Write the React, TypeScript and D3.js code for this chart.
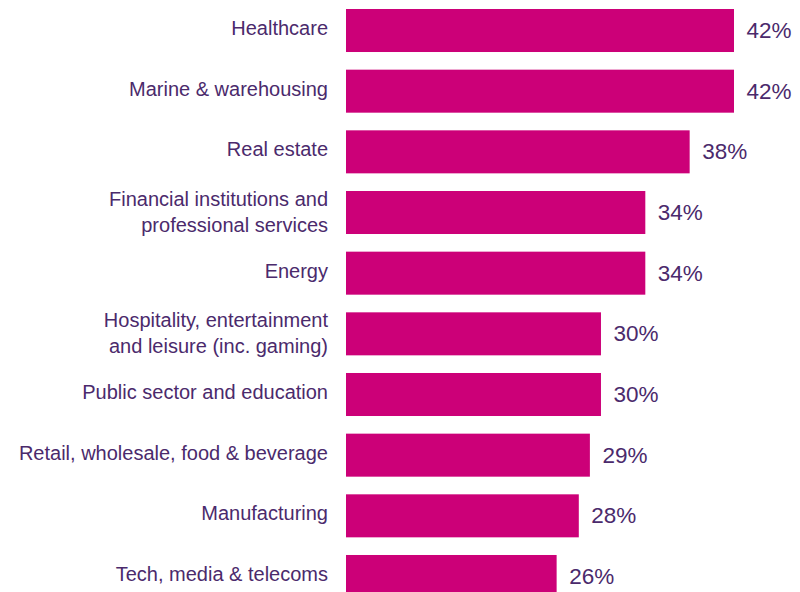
import React, { useEffect, useRef } from 'react';
import * as d3 from 'd3';

const categories: string[][] = [
    ['Healthcare'],
    ['Marine & warehousing'],
    ['Real estate'],
    ['Financial institutions and', 'professional services'],
    ['Energy'],
    ['Hospitality, entertainment', 'and leisure (inc. gaming)'],
    ['Public sector and education'],
    ['Retail, wholesale, food & beverage'],
    ['Manufacturing'],
    ['Tech, media & telecoms'],
];
const values: number[] = [42, 42, 38, 34, 34, 30, 30, 29, 28, 26];

const width = 800;
const height = 592;
const barColor = '#cc0078';
const textColor = '#4b2a6c';

const App: React.FC = () => {
    const ref = useRef<SVGSVGElement>(null);

    useEffect(() => {
        if (!ref.current) return;
        const svg = d3.select(ref.current);
        svg.selectAll('*').remove();

        const rows = categories.map((c, i) => ({ lines: c, value: values[i], key: String(i) }));

        const y = d3.scaleBand()
            .domain(rows.map(d => d.key))
            .range([9, 598])
            .paddingInner(0.291)
            .paddingOuter(0);

        // bars don't start at zero in the original, axis begins around 7%
        const x = d3.scaleLinear().domain([7, 42]).range([346, 734]);

        const g = svg.append('g').style('font-family', '"Liberation Sans", Arial, sans-serif');

        g.selectAll('rect')
            .data(rows)
            .enter()
            .append('rect')
            .attr('x', x(7))
            .attr('y', d => y(d.key)!)
            .attr('width', d => x(d.value) - x(7))
            .attr('height', y.bandwidth())
            .attr('fill', barColor);

        g.selectAll('text.value')
            .data(rows)
            .enter()
            .append('text')
            .attr('class', 'value')
            .attr('x', d => x(d.value) + 12.5)
            .attr('y', d => y(d.key)! + y.bandwidth() / 2 + 7.5)
            .attr('fill', textColor)
            .style('font-size', '22.5px')
            .text(d => `${d.value}%`);

        const labels = g.selectAll('text.label')
            .data(rows)
            .enter()
            .append('text')
            .attr('class', 'label')
            .attr('text-anchor', 'end')
            .attr('fill', textColor)
            .style('font-size', '20px');

        labels.each(function (d) {
            const t = d3.select(this);
            const cy = y(d.key)! + y.bandwidth() / 2;
            if (d.lines.length === 1) {
                t.append('tspan').attr('x', 328).attr('y', cy + 4.5).text(d.lines[0]);
            } else {
                t.append('tspan').attr('x', 328).attr('y', cy - 6.5).text(d.lines[0]);
                t.append('tspan').attr('x', 328).attr('y', cy + 19).text(d.lines[1]);
            }
        });
    }, []);

    return (
        <svg
            ref={ref}
            width={width}
            height={height}
            style={{ position: 'absolute', left: 0, top: 0, background: '#fff' }}
        />
    );
};

export default App;
